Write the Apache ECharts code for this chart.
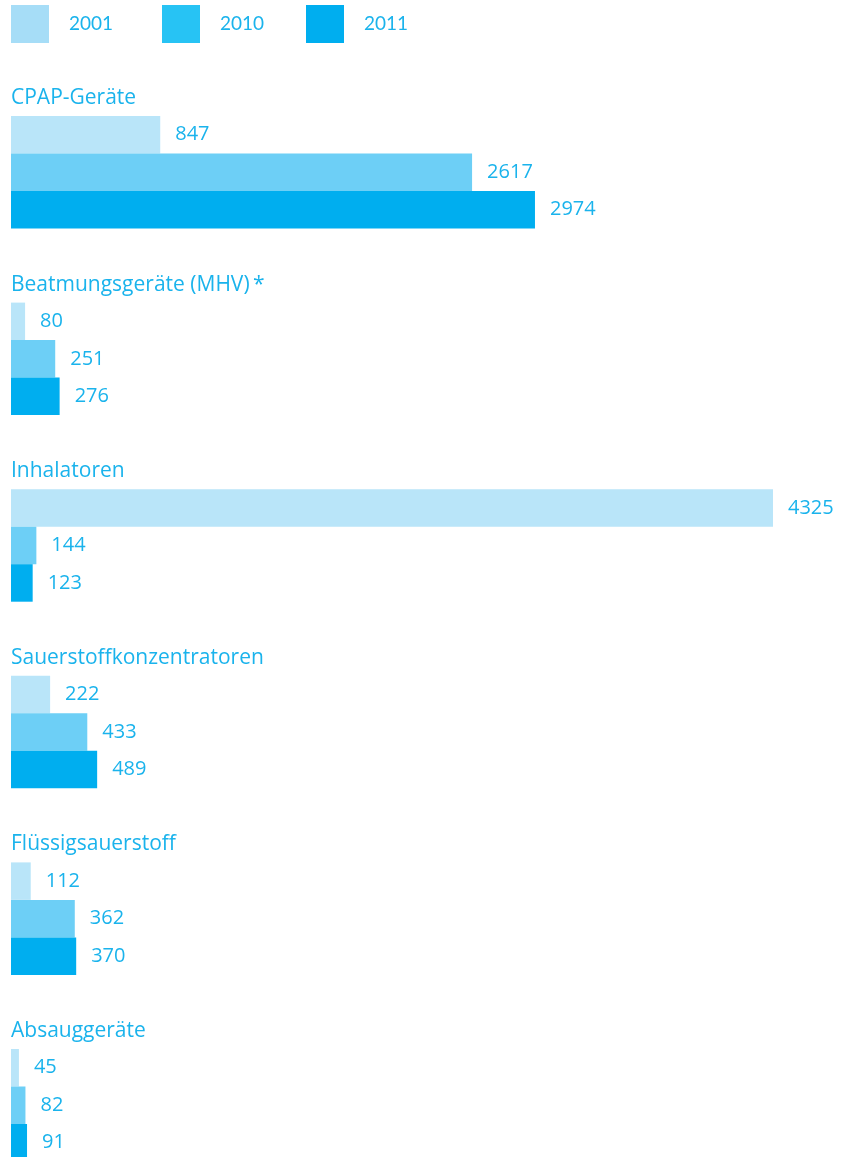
<!DOCTYPE html>
<html><head><meta charset="utf-8">
<script src="https://cdn.jsdelivr.net/npm/echarts@6/dist/echarts.min.js"></script>
<style>html,body{margin:0;padding:0;background:#fff;overflow:hidden}#c{width:851px;height:1166px}</style>
</head><body><div id="c"></div>
<script>
const categories = ['CPAP-Geräte','Beatmungsgeräte (MHV)\u2009*','Inhalatoren','Sauerstoffkonzentratoren','Flüssigsauerstoff','Absauggeräte'];
const years = ['2001','2010','2011'];
const v2001 = [847, 80, 4325, 222, 112, 45];
const v2010 = [2617, 251, 144, 433, 362, 82];
const v2011 = [2974, 276, 123, 489, 370, 91];

const barColors = ['#b9e5f9','#6dcff6','#00aeef'];
const legendColors = ['#a6ddf7','#27c3f4','#00aeef'];
const textColor = '#1ab3ec';
const font = 'Open Sans';
const pitch = 186.6, top0 = 116, gh = 112.5;
const xmax = 4325;

const grids = [], xAxes = [], yAxes = [], series = [], titles = [];
categories.forEach((cat, i) => {
  const t = top0 + i * pitch;
  grids.push({left: 11, width: 762, top: t, height: gh});
  xAxes.push({gridIndex: i, type: 'value', min: 0, max: xmax, show: false});
  yAxes.push({gridIndex: i, type: 'category', inverse: true, data: years, show: false});
  titles.push({text: cat, left: 11, top: t - 31,
    textStyle: {color: textColor, fontFamily: font, fontSize: 21, fontWeight: 'normal', lineHeight: 26}, padding: 0});
  const vals = [v2001[i], v2010[i], v2011[i]];
  series.push({
    type: 'bar', xAxisIndex: i, yAxisIndex: i, barCategoryGap: 0, silent: true,
    data: vals.map((v, k) => ({value: v, itemStyle: {color: barColors[k]}})),
    label: {show: true, position: 'right', distance: 15, color: textColor, fontFamily: font, fontSize: 20},
    animation: false
  });
});
// hidden grid for legend proxy series
const gi = categories.length;
grids.push({left: 0, top: 0, width: 1, height: 1, show: false});
xAxes.push({gridIndex: gi, type: 'value', show: false});
yAxes.push({gridIndex: gi, type: 'category', data: ['x'], show: false});
const legends = [];
const legendLeft = [11, 162, 306];
years.forEach((y, k) => {
  series.push({type: 'bar', name: y, xAxisIndex: gi, yAxisIndex: gi, data: [], itemStyle: {color: legendColors[k]}});
  legends.push({data: [{name: y, icon: 'rect', itemStyle: {color: legendColors[k]}}], left: legendLeft[k], top: 5,
    itemWidth: 38, itemHeight: 38, selectedMode: false, padding: 0,
    textStyle: {color: textColor, fontFamily: 'Lato', fontSize: 19, padding: [0, 0, 0, 15]}});
});

const chart = echarts.init(document.getElementById('c'), null, {renderer: 'canvas'});
chart.setOption({animation: false, title: titles, grid: grids, xAxis: xAxes, yAxis: yAxes, series: series, legend: legends});
</script></body></html>
